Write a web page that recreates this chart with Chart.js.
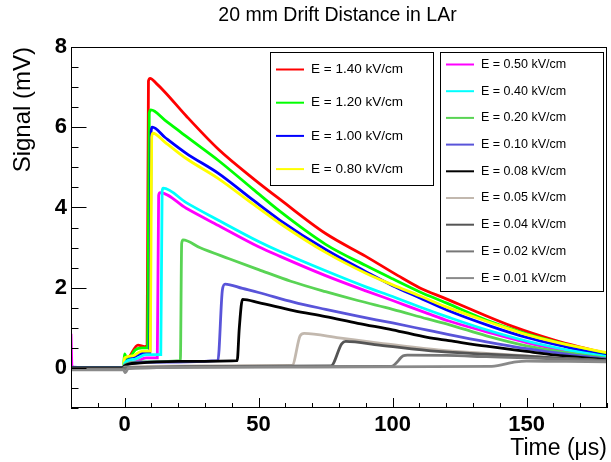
<!DOCTYPE html>
<html>
<head>
<meta charset="utf-8">
<script src="https://cdn.jsdelivr.net/npm/chart.js@4.4.1/dist/chart.umd.min.js"></script>
<style>
  html, body { margin: 0; padding: 0; background: #fff; }
  canvas { display: block; }
</style>
</head>
<body>
<canvas id="myChart" width="611" height="462"></canvas>
<script>
// drift field labels and colours (same order as the series below)
const campos = ['1.40', '1.20', '1.00', '0.80', '0.50', '0.40', '0.20', '0.10', '0.08', '0.05', '0.04', '0.02', '0.01'];
const colores = ['#ff0000', '#00ff00', '#0000ff', '#ffff00', '#ff00ff', '#00ffff', '#59d454',
                 '#5954d9', '#000000', '#c2b8ae', '#555555', '#777777', '#8a8a8a'];

// [time (us), signal (mV)]
const e140 = [[-20,0.02],[-10,0.0],[-0.5,0.01],[0,0.1],[2,0.3],[5,0.57],[7.5,0.53],[8.4,0.55],[8.9,7.15],[9.5,7.22],[12,7.08],[15,6.88],[23,6.28],[35,5.45],[48,4.72],[58,4.2],[75,3.35],[90,2.78],[102,2.3],[110,2.0],[120,1.72],[132,1.38],[145,1.03],[160,0.7],[170,0.52],[180,0.36]];
const e120 = [[-20,0.0],[-0.5,0.0],[0,0.35],[1,0.2],[4,0.45],[6.5,0.5],[8.6,0.5],[9.2,6.35],[9.8,6.43],[15,6.18],[23,5.77],[35,5.17],[48,4.45],[58,3.9],[75,3.08],[90,2.55],[100,2.22],[110,1.9],[120,1.62],[137,1.14],[150,0.85],[165,0.58],[180,0.34]];
const e100 = [[-20,0.02],[-0.5,0.0],[0,0.1],[3,0.25],[7,0.37],[9.4,0.37],[9.9,5.9],[10.3,6.0],[15,5.75],[23,5.35],[35,4.85],[48,4.18],[58,3.68],[75,2.95],[90,2.4],[100,2.05],[110,1.75],[120,1.45],[137,1.03],[150,0.76],[165,0.52],[180,0.3]];
const e080 = [[-20,0.0],[-0.5,0.0],[0,0.25],[3,0.3],[6.5,0.42],[9.6,0.42],[10.1,5.75],[10.6,5.85],[15,5.63],[23,5.22],[35,4.72],[48,4.08],[58,3.6],[75,2.88],[90,2.36],[100,2.07],[110,1.8],[120,1.52],[137,1.12],[150,0.83],[165,0.58],[180,0.38]];
const e050 = [[-20,0.85],[-19.6,0.0],[-0.5,0.0],[0,0.08],[4,0.15],[8,0.25],[12.2,0.25],[12.7,4.3],[13.2,4.37],[23,3.98],[35,3.55],[50,3.02],[58,2.78],[75,2.3],[90,1.92],[100,1.68],[113,1.36],[121,1.17],[135,0.9],[150,0.63],[165,0.42],[180,0.26]];
const e040 = [[-20,0.0],[-0.5,0.0],[0,0.12],[4,0.22],[8,0.33],[13.5,0.33],[14,4.4],[14.4,4.48],[23,4.12],[35,3.68],[50,3.15],[58,2.9],[75,2.42],[90,2.02],[100,1.78],[113,1.45],[121,1.26],[135,0.95],[150,0.67],[165,0.45],[180,0.28]];
const e020 = [[-20,0.0],[-0.5,0.0],[0,0.08],[6,0.15],[20.8,0.18],[21.3,3.1],[21.8,3.19],[28,3.0],[39,2.72],[50,2.45],[62,2.16],[75,1.9],[87,1.68],[100,1.46],[113,1.22],[121,1.08],[135,0.8],[150,0.55],[165,0.38],[180,0.24]];
const e010 = [[-20,0.0],[-0.5,0.0],[0,0.06],[8,0.14],[34.8,0.18],[36.5,1.95],[37.5,2.09],[44,1.98],[50,1.88],[63,1.64],[75,1.46],[87,1.29],[100,1.12],[113,0.94],[121,0.83],[135,0.65],[150,0.48],[165,0.34],[180,0.22]];
const e008 = [[-20,0.0],[-0.5,0.0],[0,0.05],[5,0.12],[20,0.16],[42,0.18],[42.8,1.0],[44,1.71],[50,1.63],[63,1.43],[75,1.28],[87,1.11],[100,0.95],[113,0.76],[121,0.68],[135,0.54],[150,0.41],[165,0.29],[180,0.2]];
const e005 = [[-20,-0.03],[-0.5,-0.03],[0,0.02],[30,0.05],[62.5,0.06],[65.5,0.8],[67,0.86],[80,0.75],[95,0.62],[117,0.45],[135,0.36],[150,0.3],[165,0.23],[180,0.18]];
const e004 = [[-20,-0.03],[-0.5,-0.03],[0,0.0],[40,0.04],[77,0.05],[81,0.6],[82.5,0.66],[95,0.57],[117,0.41],[135,0.34],[150,0.29],[165,0.23],[180,0.18]];
const e002 = [[-20,-0.04],[-0.5,-0.04],[0,-0.02],[50,0.03],[99.5,0.04],[104,0.3],[105.5,0.32],[120,0.31],[135,0.28],[150,0.25],[165,0.21],[180,0.17]];
const e001 = [[-20,-0.05],[-0.5,-0.05],[0.3,-0.12],[1.5,0.0],[60,0.02],[137,0.04],[146,0.15],[150,0.17],[165,0.16],[180,0.15]];
const series = [e140, e120, e100, e080, e050, e040, e020, e010, e008, e005, e004, e002, e001];

// axis ticks
const xTicks = [-20, -10, 0, 10, 20, 30, 40, 50, 60, 70, 80, 90, 100, 110, 120, 130, 140, 150, 160, 170, 180];
const xLabels = [0, 50, 100, 150];
const yTicks = [-1, -0.5, 0, 0.5, 1, 1.5, 2, 2.5, 3, 3.5, 4, 4.5, 5, 5.5, 6, 6.5, 7, 7.5, 8];
const yLabels = [0, 2, 4, 6, 8];

const titulo = '20 mm Drift Distance in LAr';
const FUENTE = '"Liberation Sans", Arial, Helvetica, sans-serif';
let senalChart;

// title centred over the frame, as ROOT does
const tituloPlugin = {
  id: 'titulo',
  afterDraw(chart) {
    const ctx = chart.ctx;
    ctx.save();
    ctx.font = '19.5px ' + FUENTE;
    ctx.fillStyle = '#000';
    ctx.textAlign = 'center';
    ctx.textBaseline = 'middle';
    ctx.fillText(titulo, 337.5, 16);
    ctx.restore();
  }
};

// frame and inward ticks like ROOT
const marcoPlugin = {
  id: 'marco',
  afterDraw(chart) {
    const {ctx, chartArea: a} = chart;
    const xs = chart.scales.x, ys = chart.scales.y;
    ctx.save();
    ctx.strokeStyle = '#000';
    ctx.lineWidth = 1;
    ctx.beginPath();
    xs.ticks.forEach(t => {
      const px = Math.round(xs.getPixelForValue(t.value)) + 0.5;
      const len = xLabels.includes(t.value) ? 10 : 5;
      ctx.moveTo(px, a.bottom);
      ctx.lineTo(px, a.bottom - len);
    });
    ys.ticks.forEach(t => {
      const py = Math.round(ys.getPixelForValue(t.value)) + 0.5;
      const len = yLabels.includes(t.value) ? 15.5 : 7.5;
      ctx.moveTo(a.left, py);
      ctx.lineTo(a.left + len, py);
    });
    ctx.stroke();
    ctx.strokeRect(Math.round(a.left) + 0.5, Math.round(a.top) + 0.5,
                   Math.round(a.right - a.left) - 1, Math.round(a.bottom - a.top) - 1);
    ctx.restore();
  }
};

// the two legend boxes
function cajaLeyenda(ctx, chart, desde, hasta, caja) {
  ctx.save();
  ctx.fillStyle = '#fff';
  ctx.fillRect(caja.x, caja.y, caja.w, caja.h);
  ctx.strokeStyle = '#000';
  ctx.lineWidth = 1;
  ctx.strokeRect(caja.x + 0.5, caja.y + 0.5, caja.w, caja.h);
  ctx.font = caja.font + 'px ' + FUENTE;
  ctx.textBaseline = 'middle';
  ctx.fillStyle = '#000';
  for (let i = desde; i < hasta; i++) {
    const ds = chart.data.datasets[i];
    const y = caja.y + caja.first + (i - desde) * caja.step;
    ctx.strokeStyle = ds.borderColor;
    ctx.lineWidth = 2;
    ctx.beginPath();
    ctx.moveTo(caja.x + 6, y);
    ctx.lineTo(caja.x + 34, y);
    ctx.stroke();
    ctx.fillText(ds.label, caja.x + 41, y);
  }
  ctx.restore();
}

const leyendaPlugin = {
  id: 'leyendas',
  afterDraw(chart) {
    const ctx = chart.ctx;
    cajaLeyenda(ctx, chart, 0, 4, {x: 270, y: 52, w: 163, h: 133, first: 17.5, step: 33.2, font: 13.5});
    cajaLeyenda(ctx, chart, 4, 13, {x: 440, y: 52, w: 163, h: 239, first: 12.5, step: 26.7, font: 12.5});
  }
};

function initChart() {
  const ctx = document.getElementById('myChart').getContext('2d');
  const n = series.length;

  senalChart = new Chart(ctx, {
    type: 'line',
    data: {
      datasets: series.map((s, i) => ({
        label: 'E = ' + campos[i] + ' kV/cm',
        data: s,
        borderColor: colores[i],
        borderWidth: 2.8,
        pointRadius: 0,
        cubicInterpolationMode: 'monotone',
        fill: false,
        order: n - i
      }))
    },
    options: {
      responsive: false,
      animation: false,
      layout: { padding: { left: 0, right: 3, top: 47, bottom: 0 } },
      plugins: {
        legend: { display: false },
        tooltip: { enabled: false },
        title: { display: false }
      },
      scales: {
        x: {
          type: 'linear',
          min: -20,
          max: 180,
          afterBuildTicks: s => { s.ticks = xTicks.map(v => ({ value: v })); },
          afterFit: s => { s.height = 54; },
          grid: { display: false, drawTicks: false },
          border: { display: false },
          ticks: {
            autoSkip: false,
            maxRotation: 0,
            padding: 4,
            color: '#000',
            font: { family: FUENTE, size: 22, weight: 'bold', lineHeight: 1.2 },
            callback: v => xLabels.includes(v) ? String(v) : ''
          },
          title: {
            display: true,
            text: 'Time (μs)',
            align: 'end',
            color: '#000',
            font: { family: FUENTE, size: 23, lineHeight: 1.2 },
            padding: { top: 0, bottom: 0 }
          }
        },
        y: {
          type: 'linear',
          min: -1,
          max: 8,
          afterBuildTicks: s => { s.ticks = yTicks.map(v => ({ value: v })); },
          afterFit: s => { s.width = 71; },
          grid: { display: false, drawTicks: false },
          border: { display: false },
          ticks: {
            autoSkip: false,
            padding: 4,
            color: '#000',
            font: { family: FUENTE, size: 22, weight: 'bold', lineHeight: 1.2 },
            callback: v => yLabels.includes(v) ? String(v) : ''
          },
          title: {
            display: true,
            text: 'Signal (mV)',
            align: 'end',
            color: '#000',
            font: { family: FUENTE, size: 24, lineHeight: 1.2 },
            padding: { top: 8.5, bottom: 0 }
          }
        }
      }
    },
    plugins: [marcoPlugin, leyendaPlugin, tituloPlugin]
  });
}

window.onload = initChart;
</script>
</body>
</html>
